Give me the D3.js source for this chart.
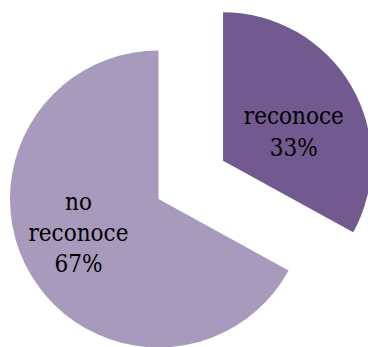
<!DOCTYPE html>
<html>
<head>
<meta charset="utf-8">
<script src="https://cdn.jsdelivr.net/npm/d3@7"></script>
<style>
  html, body { margin: 0; padding: 0; background: #ffffff; }
  svg { display: block; }
</style>
</head>
<body>
<svg id="chart" width="368" height="347"></svg>
<script>
// Slices, drawn clockwise from 12 o'clock
const categories = ["reconoce", "no reconoce"];
const values = [33, 67];
const colors = ["#725a90", "#a89abd"];
const exploded = [true, false];

const width = 368, height = 347;
const cx = 158.5, cy = 199;
const radius = 148.5;
const explodeDist = 75;

const svg = d3.select("#chart");

const pie = d3.pie().sort(null).value(d => d.value);
const arcs = pie(categories.map((c, i) => ({ name: c, value: values[i], color: colors[i], exploded: exploded[i] })));
const total = d3.sum(values);

const arc = d3.arc().innerRadius(0).outerRadius(radius);

const g = svg.append("g").attr("transform", `translate(${cx},${cy})`);

function shift(d) {
  const mid = (d.startAngle + d.endAngle) / 2;
  const k = d.data.exploded ? explodeDist : 0;
  return [Math.sin(mid) * k, -Math.cos(mid) * k];
}

const slice = g.selectAll("g.slice")
  .data(arcs)
  .join("g")
  .attr("class", "slice")
  .attr("transform", d => { const s = shift(d); return `translate(${s[0]},${s[1]})`; });

slice.append("path")
  .attr("d", arc)
  .attr("fill", d => d.data.color);

// Data labels: category name (wrapped) and percentage
const lineH = 31.3;
slice.each(function(d) {
  const frac = d.data.value / total;
  const mid = (d.startAngle + d.endAngle) / 2 + 8 * Math.PI / 180;
  const lr = radius * (0.45 + 0.2 * frac);
  const lx = Math.sin(mid) * lr, ly = -Math.cos(mid) * lr;
  const lines = d.data.name.split(" ").concat([Math.round(frac * 100) + "%"]);
  const t = d3.select(this).append("text")
    .attr("text-anchor", "middle")
    .style("font-family", "\"DejaVu Serif Condensed\", \"DejaVu Serif\", serif")
    .style("font-stretch", "condensed")
    .style("font-size", "24px")
    .attr("fill", "#000");
  const y0 = ly - (lines.length - 1) * lineH / 2 + 8.5;
  lines.forEach((ln, i) => {
    t.append("tspan").attr("x", lx).attr("y", y0 + i * lineH).text(ln);
  });
});
</script>
</body>
</html>
